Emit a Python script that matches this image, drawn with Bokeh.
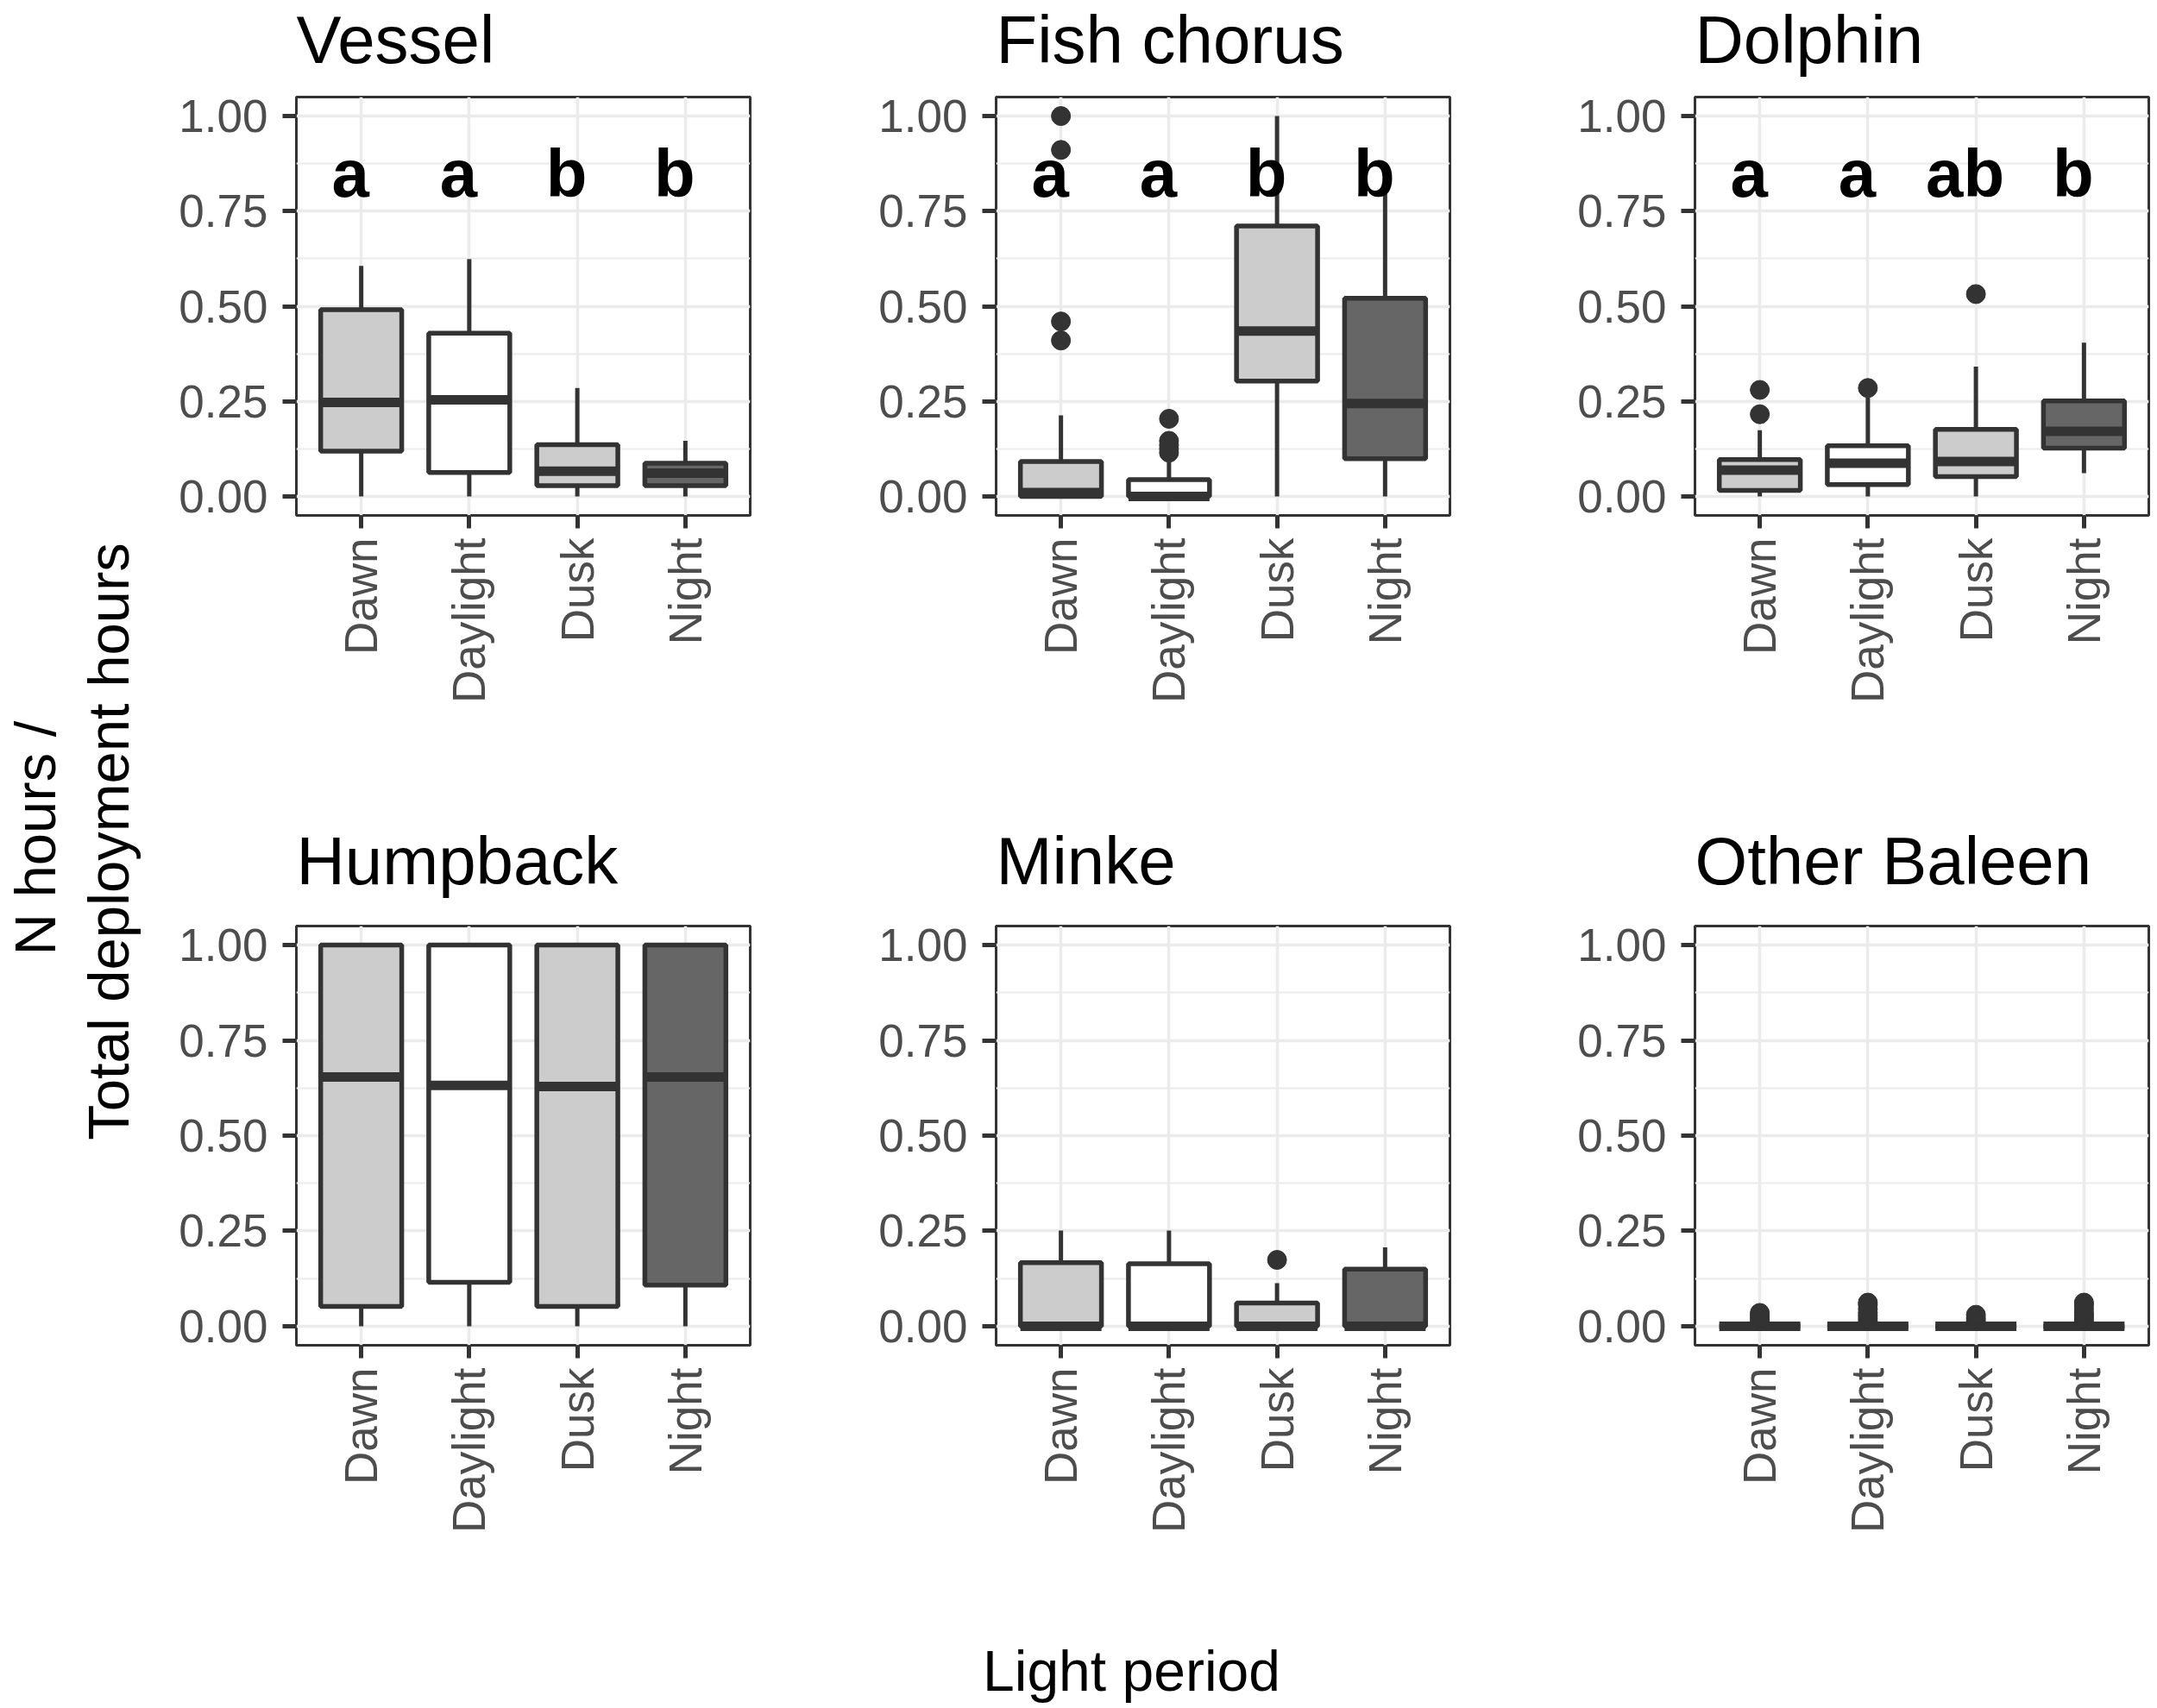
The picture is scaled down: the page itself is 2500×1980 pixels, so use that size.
import math

from bokeh.plotting import figure
from bokeh.layouts import row, column
from bokeh.models import (FactorRange, Range1d, FixedTicker, PrintfTickFormatter,
                          ColumnDataSource, Label)
from bokeh.transform import dodge
from bokeh.core.properties import value
from bokeh.embed import file_html
from bokeh.resources import INLINE

FONT = "Liberation Sans"
DARK = "#333333"
GRID = "#EBEBEB"
TICK_TXT = "#4D4D4D"

periods = ["Dawn", "Daylight", "Dusk", "Night"]
box_fills = ["#CCCCCC", "#FFFFFF", "#CCCCCC", "#666666"]
y_ticks = [0.0, 0.25, 0.5, 0.75, 1.0]
y_minor = [0.125, 0.375, 0.625, 0.875]

top_titles = ["Vessel", "Fish chorus", "Dolphin"]
bottom_titles = ["Humpback", "Minke", "Other Baleen"]

# box statistics, one value per light period
vessel_low = [0.0, 0.0, 0.0, 0.0]
vessel_q1 = [0.119, 0.063, 0.028, 0.028]
vessel_med = [0.247, 0.254, 0.066, 0.061]
vessel_q3 = [0.491, 0.429, 0.136, 0.087]
vessel_high = [0.606, 0.624, 0.285, 0.146]
vessel_out_x = []
vessel_out_y = []
vessel_letters = ["a", "a", "b", "b"]

fish_low = [0.0, 0.0, 0.0, 0.0]
fish_q1 = [0.0, 0.0, 0.303, 0.099]
fish_med = [0.010, 0.0, 0.435, 0.244]
fish_q3 = [0.092, 0.044, 0.711, 0.521]
fish_high = [0.213, 0.090, 1.0, 0.82]
fish_out_x = ["Dawn", "Dawn", "Dawn", "Dawn",
              "Daylight", "Daylight", "Daylight", "Daylight", "Daylight"]
fish_out_y = [1.0, 0.911, 0.46, 0.41, 0.204, 0.146, 0.135, 0.125, 0.115]
fish_letters = ["a", "a", "b", "b"]

dolphin_low = [0.0, 0.0, 0.0, 0.061]
dolphin_q1 = [0.016, 0.031, 0.052, 0.127]
dolphin_med = [0.069, 0.087, 0.092, 0.171]
dolphin_q3 = [0.097, 0.133, 0.176, 0.251]
dolphin_high = [0.174, 0.26, 0.341, 0.404]
dolphin_out_x = ["Dawn", "Dawn", "Daylight", "Dusk"]
dolphin_out_y = [0.28, 0.216, 0.285, 0.532]
dolphin_letters = ["a", "a", "ab", "b"]

humpback_low = [0.0, 0.0, 0.0, 0.0]
humpback_q1 = [0.052, 0.115, 0.052, 0.108]
humpback_med = [0.654, 0.632, 0.629, 0.654]
humpback_q3 = [1.0, 1.0, 1.0, 1.0]
humpback_high = [1.0, 1.0, 1.0, 1.0]
humpback_out_x = []
humpback_out_y = []

minke_low = [0.0, 0.0, 0.0, 0.0]
minke_q1 = [0.0, 0.0, 0.0, 0.0]
minke_med = [0.0, 0.0, 0.0, 0.0]
minke_q3 = [0.167, 0.164, 0.061, 0.150]
minke_high = [0.251, 0.251, 0.113, 0.207]
minke_out_x = ["Dusk"]
minke_out_y = [0.174]

baleen_low = [0.0, 0.0, 0.0, 0.0]
baleen_q1 = [0.0, 0.0, 0.0, 0.0]
baleen_med = [0.0, 0.0, 0.0, 0.0]
baleen_q3 = [0.0, 0.0, 0.0, 0.0]
baleen_high = [0.0, 0.0, 0.0, 0.0]
baleen_out_x = (["Dawn"] * 4 + ["Daylight"] * 7 + ["Dusk"] * 3 + ["Night"] * 7)
baleen_out_y = [0.014, 0.021, 0.028, 0.035,
                0.014, 0.021, 0.028, 0.035, 0.045, 0.056, 0.062,
                0.014, 0.021, 0.030,
                0.014, 0.021, 0.028, 0.035, 0.045, 0.056, 0.062]


def make_panel(low, q1, med, q3, high, out_x, out_y, letters,
               left, right, top, bottom, fh):
    p = figure(x_range=FactorRange(factors=periods, range_padding=0.1,
                                   range_padding_units="absolute"),
               y_range=Range1d(-0.05, 1.05),
               frame_width=526, frame_height=fh,
               min_border_left=left, min_border_right=right,
               min_border_top=top, min_border_bottom=bottom,
               output_backend="svg", toolbar_location=None)
    p.background_fill_color = "white"
    p.border_fill_color = "white"
    p.outline_line_color = DARK
    p.outline_line_width = 3

    p.xgrid.grid_line_color = GRID
    p.xgrid.grid_line_width = 3.5
    p.ygrid.ticker = FixedTicker(ticks=y_ticks, minor_ticks=y_minor)
    p.ygrid.grid_line_color = GRID
    p.ygrid.grid_line_width = 3.5
    p.ygrid.minor_grid_line_color = GRID
    p.ygrid.minor_grid_line_width = 2

    p.yaxis.ticker = FixedTicker(ticks=y_ticks)
    p.yaxis.formatter = PrintfTickFormatter(format="%.2f")
    for ax in (p.xaxis, p.yaxis):
        ax.axis_line_color = None
        ax.major_tick_in = 0
        ax.major_tick_line_color = DARK
        ax.major_tick_line_width = 5
        ax.minor_tick_line_color = None
        ax.major_label_text_font = FONT
        ax.major_label_text_font_size = "53px"
        ax.major_label_text_color = TICK_TXT
    p.yaxis.major_tick_out = 16
    p.yaxis.major_label_standoff = 17
    p.xaxis.major_tick_out = 15
    p.xaxis.major_label_standoff = 11
    p.xaxis.major_label_orientation = math.pi / 2

    src = ColumnDataSource(dict(cat=periods, low=low, q1=q1, med=med, q3=q3,
                                high=high, fill=box_fills))
    p.segment(x0="cat", y0="q3", x1="cat", y1="high", source=src,
              line_color=DARK, line_width=5)
    p.segment(x0="cat", y0="q1", x1="cat", y1="low", source=src,
              line_color=DARK, line_width=5)
    p.vbar(x="cat", bottom="q1", top="q3", width=0.75, source=src,
           fill_color="fill", line_color=DARK, line_width=5.5)
    p.segment(x0=dodge("cat", -0.375, range=p.x_range), y0="med",
              x1=dodge("cat", 0.375, range=p.x_range), y1="med", source=src,
              line_color=DARK, line_width=11)

    if out_x:
        p.scatter(x=out_x, y=out_y, size=22, color=DARK)

    if letters:
        lsrc = ColumnDataSource(dict(cat=periods, letter=letters))
        p.text(x=dodge("cat", -0.1, range=p.x_range), y=0.85, text="letter",
               source=lsrc, text_font=value(FONT), text_font_style="bold",
               text_font_size=value("78px"), text_align="center",
               text_baseline="middle", text_color="black")
    return p


def blank(w, h):
    f = figure(frame_width=w, frame_height=h, x_range=Range1d(0, w),
               y_range=Range1d(0, h), x_axis_type=None, y_axis_type=None,
               min_border=0, output_backend="svg", toolbar_location=None)
    f.outline_line_color = None
    f.grid.visible = False
    return f


def title_strip(titles, h, y):
    s = blank(2330, h)
    for t, x in zip(titles, [173, 984, 1794]):
        s.add_layout(Label(x=x, y=y, text=t, text_font=FONT,
                           text_font_size="78px", text_color="black",
                           text_align="left", text_baseline="top"))
    return s


cols = [(173, 91), (194, 90), (194, 10)]
top_stats = [
    (vessel_low, vessel_q1, vessel_med, vessel_q3, vessel_high,
     vessel_out_x, vessel_out_y, vessel_letters),
    (fish_low, fish_q1, fish_med, fish_q3, fish_high,
     fish_out_x, fish_out_y, fish_letters),
    (dolphin_low, dolphin_q1, dolphin_med, dolphin_q3, dolphin_high,
     dolphin_out_x, dolphin_out_y, dolphin_letters),
]
bottom_stats = [
    (humpback_low, humpback_q1, humpback_med, humpback_q3, humpback_high,
     humpback_out_x, humpback_out_y, None),
    (minke_low, minke_q1, minke_med, minke_q3, minke_high,
     minke_out_x, minke_out_y, None),
    (baleen_low, baleen_q1, baleen_med, baleen_q3, baleen_high,
     baleen_out_x, baleen_out_y, None),
]

top_row = [make_panel(*s, left=c[0], right=c[1], top=18, bottom=340, fh=485)
           for s, c in zip(top_stats, cols)]
bottom_row = [make_panel(*s, left=c[0], right=c[1], top=21, bottom=291, fh=486)
              for s, c in zip(bottom_stats, cols)]

top_strip = title_strip(top_titles, 94, 93)
bottom_strip = title_strip(bottom_titles, 115, 99)

ylab = blank(170, 1980)
ylab.add_layout(Label(x=2, y=1009, text="N hours /", angle=math.pi / 2,
                      text_font=FONT, text_font_size="67px", text_color="black",
                      text_align="center", text_baseline="top"))
ylab.add_layout(Label(x=87, y=1005, text="Total deployment hours",
                      angle=math.pi / 2, text_font=FONT, text_font_size="67px",
                      text_color="black", text_align="center",
                      text_baseline="top"))

xlab = blank(2330, 130)
xlab.add_layout(Label(x=1141, y=44, text="Light period", text_font=FONT,
                      text_font_size="66px", text_color="black",
                      text_align="center", text_baseline="middle"))

page = row(ylab, column(top_strip, row(*top_row), bottom_strip,
                        row(*bottom_row), xlab))

open("out.html", "w").write(file_html(page, INLINE))
